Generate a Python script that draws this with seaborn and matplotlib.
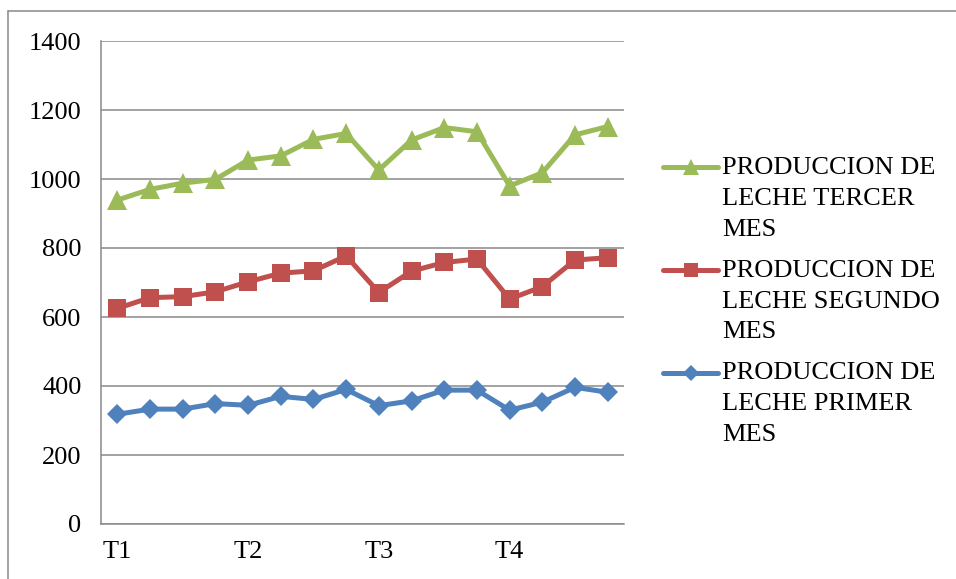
import matplotlib
matplotlib.use("Agg")
import matplotlib.pyplot as plt
from matplotlib.lines import Line2D
import seaborn as sns
import pandas as pd
import numpy as np

# ---- data ----
tick_labels = ["T1", "T2", "T3", "T4"]
tick_positions = [0, 4, 8, 12]
n_points = 16
tercer = [939, 970, 988, 999, 1055, 1067, 1115, 1132, 1026, 1113, 1149, 1137, 980, 1018, 1128, 1152]
segundo = [625, 656, 659, 673, 702, 727, 734, 777, 671, 733, 758, 768, 652, 688, 765, 772]
primer = [318, 333, 333, 349, 344, 370, 361, 390, 343, 357, 388, 388, 330, 353, 396, 382]
series_names = ["PRODUCCION DE\nLECHE TERCER\nMES",
                "PRODUCCION DE\nLECHE SEGUNDO\nMES",
                "PRODUCCION DE\nLECHE PRIMER\nMES"]
y_ticks = [0, 200, 400, 600, 800, 1000, 1200, 1400]

# ---- styles ----
colors = ["#9BBB59", "#C0504D", "#4F81BD"]
markers = ["^", "s", "D"]
msizes = [14, 13, 10]
GRAY = "#898989"

sns.set_theme(style="white")
plt.rcParams["font.family"] = ["Liberation Serif", "DejaVu Serif"]
plt.rcParams["text.color"] = "black"
FS = 19

W, H = 956, 579
fig = plt.figure(figsize=(W / 100, H / 100), dpi=100)
ax = fig.add_axes([101 / W, 1 - 524 / H, (624 - 101) / W, (524 - 41) / H])

x = list(range(n_points))
handles = []
for vals, name, c, m, ms in zip([tercer, segundo, primer], series_names, colors, markers, msizes):
    sns.lineplot(x=x, y=vals, ax=ax, color=c, marker=m, markersize=ms,
                 markeredgewidth=0, linewidth=3.6, label=name, legend=False)
    handles.append(Line2D([], [], color=c, marker=m, markersize=ms * 0.8,
                          markeredgewidth=0, linewidth=3.6))
if ax.get_legend() is not None:
    ax.get_legend().remove()

ax.set_xlim(-0.5, n_points - 0.5)
ax.set_ylim(0, 1400)
ax.set_yticks(y_ticks)
ax.set_yticklabels([str(v) for v in y_ticks], fontsize=FS)
ax.set_xticks(tick_positions)
ax.set_xticklabels(tick_labels, fontsize=FS)
ax.set_xticks(np.arange(-0.5, n_points, 1.0), minor=True)
ax.tick_params(axis="x", which="major", length=0, pad=12, colors="black")
ax.tick_params(axis="x", which="minor", length=6, width=1.1, color=GRAY, direction="out")
ax.tick_params(axis="y", which="major", length=5, width=1.1, color=GRAY, direction="out",
               pad=9, labelcolor="black")
ax.set_xlabel("")
ax.set_ylabel("")

ax.grid(axis="y", color=GRAY, linewidth=1.1)
ax.set_axisbelow(True)
for s in ["top", "right"]:
    ax.spines[s].set_visible(False)
for s in ["left", "bottom"]:
    ax.spines[s].set_color(GRAY)
    ax.spines[s].set_linewidth(1.1)

# outer frame (top and left edges visible)
fig.add_artist(Line2D([8 / W, 1.0], [1 - 11 / H, 1 - 11 / H], transform=fig.transFigure,
                      color=GRAY, linewidth=1.1))
fig.add_artist(Line2D([8 / W, 8 / W], [1 - 11 / H, 0.0], transform=fig.transFigure,
                      color=GRAY, linewidth=1.1))

leg = fig.legend(handles, series_names, loc="upper left",
                 bbox_to_anchor=(663 / W, 1 - 157 / H), frameon=False,
                 fontsize=FS, borderaxespad=0, borderpad=0,
                 handlelength=2.1, handletextpad=0.15, labelspacing=0.72,
                 handleheight=1.0)
for t in leg.get_texts():
    t.set_linespacing(1.52)
    t.set_color("black")
try:
    for hp in leg._legend_handle_box.get_children()[0].get_children():
        hp.align = "top"
except Exception:
    pass

fig.savefig("out.png", dpi=100)
